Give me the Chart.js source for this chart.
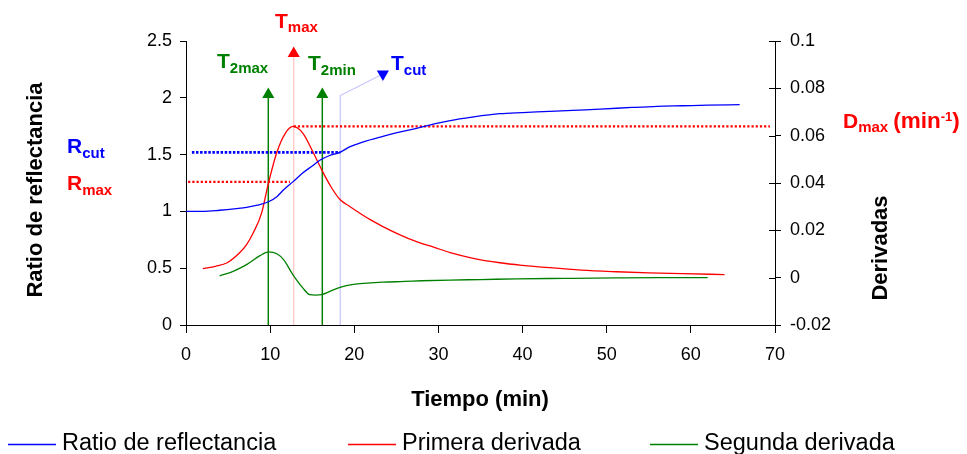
<!DOCTYPE html>
<html><head><meta charset="utf-8">
<script src="https://cdn.jsdelivr.net/npm/chart.js@4.4.0/dist/chart.umd.min.js"></script>
<style>html,body{margin:0;padding:0;background:#fff;}#wrap{width:967px;height:454px;position:relative;}</style>
</head><body><div id="wrap"><canvas id="c" width="967" height="454"></canvas></div>
<script>
// ---------- data ----------
const seriesNames = ['Ratio de reflectancia', 'Primera derivada', 'Segunda derivada'];

const timeRatio = [0, 2, 4, 6, 7.2, 8.5, 9.8, 10.8, 11.6, 12.7, 13.9, 15, 15.9, 17, 18.3, 19.5, 21, 23.4, 25.5, 27.4, 29.5, 31.4, 34, 37.3, 40, 43.2, 46, 49.2, 53, 56, 59, 62, 65.8];
const ratio     = [1.0, 1.0, 1.01, 1.025, 1.036, 1.055, 1.085, 1.13, 1.19, 1.26, 1.34, 1.40, 1.45, 1.49, 1.52, 1.57, 1.61, 1.66, 1.70, 1.73, 1.77, 1.80, 1.83, 1.86, 1.87, 1.88, 1.89, 1.90, 1.915, 1.925, 1.93, 1.935, 1.94];

const timeD1 = [2.0, 3.5, 4.9, 6.4, 7.2, 8.0, 9.0, 9.7, 10.8, 11.8, 12.7, 13.9, 15.1, 16.3, 17.3, 18.3, 19.5, 21.9, 23.4, 25.5, 27.4, 29.5, 31.4, 34, 37.3, 40, 43.2, 47, 51.2, 55, 59, 64];
const firstDeriv = [0.0038, 0.0048, 0.0063, 0.0106, 0.014, 0.019, 0.0275, 0.0385, 0.053, 0.061, 0.0639, 0.061, 0.053, 0.0444, 0.038, 0.033, 0.030, 0.0245, 0.0216, 0.018, 0.0152, 0.0128, 0.0106, 0.0083, 0.0063, 0.0052, 0.0042, 0.0032, 0.0025, 0.002, 0.0017, 0.0013];

const timeD2 = [4.0, 5.6, 7.2, 8.8, 9.8, 10.8, 11.6, 12.7, 13.9, 14.7, 15.4, 16.1, 17.1, 18.3, 19.9, 21.5, 23.4, 26, 28, 31.4, 35, 39.3, 45, 51.2, 56, 62];
const secondDeriv = [0.0008, 0.0027, 0.0055, 0.0093, 0.0109, 0.0101, 0.0076, 0.0013, -0.0044, -0.0072, -0.0074, -0.0072, -0.0058, -0.0041, -0.0028, -0.0023, -0.0019, -0.0016, -0.0013, -0.001, -0.0008, -0.0005, -0.0003, -0.0001, 0, 0];

// characteristic times (min) and arrow-head heights (left axis units)
const markerNames = ['T2max', 'Tmax', 'T2min', 'Tcut'];
const markerTimes = [9.78, 12.8, 16.2, 18.33];
const markerHeads = [2.03, 2.39, 2.03, 2.02];
const tcutHead = { x: 23.4, y: 2.21 };

// reference levels
const rCut = 1.52, rCutRange = [0.7, 18.33];
const rMax = 1.26, rMaxRange = [0.25, 12.35];
const dMax = 0.0639, dMaxRange = [12.8, 69.4];

const xTicks = [0, 10, 20, 30, 40, 50, 60, 70];
const leftTicks = [0, 0.5, 1, 1.5, 2, 2.5];
const leftTickLabels = ['0', '0.5', '1', '1.5', '2', '2.5'];
const rightTicks = [-0.02, 0, 0.02, 0.04, 0.06, 0.08, 0.1];
const rightTickLabels = ['-0.02', '0', '0.02', '0.04', '0.06', '0.08', '0.1'];

// ---------- style ----------
const FF = "'Liberation Sans', Arial, Helvetica, sans-serif";
const BLUE = '#0000ff', RED = '#ff0000', GREEN = '#008000';
const seriesColors = [BLUE, RED, GREEN];

const pts = (xs, ys) => xs.map((x, i) => ({ x: x, y: ys[i] }));

const datasets = [
  { label: seriesNames[0], data: pts(timeRatio, ratio), yAxisID: 'y', borderColor: BLUE, borderWidth: 1.3, pointRadius: 0, cubicInterpolationMode: 'monotone', fill: false },
  { label: seriesNames[1], data: pts(timeD1, firstDeriv), yAxisID: 'y1', borderColor: RED, borderWidth: 1.3, pointRadius: 0, cubicInterpolationMode: 'monotone', fill: false },
  { label: seriesNames[2], data: pts(timeD2, secondDeriv), yAxisID: 'y1', borderColor: GREEN, borderWidth: 1.3, pointRadius: 0, cubicInterpolationMode: 'monotone', fill: false },
  { label: 'Rcut', data: [{ x: rCutRange[0], y: rCut }, { x: rCutRange[1], y: rCut }], yAxisID: 'y', borderColor: BLUE, borderWidth: 2.6, borderDash: [2.5, 1.6], pointRadius: 0 },
  { label: 'Rmax', data: [{ x: rMaxRange[0], y: rMax }, { x: rMaxRange[1], y: rMax }], yAxisID: 'y', borderColor: RED, borderWidth: 2.2, borderDash: [2.2, 2], pointRadius: 0 },
  { label: 'Dmax', data: [{ x: dMaxRange[0], y: dMax }, { x: dMaxRange[1], y: dMax }], yAxisID: 'y1', borderColor: RED, borderWidth: 2.2, borderDash: [2.2, 2], pointRadius: 0 },
  { label: markerNames[0], data: [{ x: markerTimes[0], y: 0 }, { x: markerTimes[0], y: markerHeads[0] }], yAxisID: 'y', borderColor: GREEN, borderWidth: 1.5, pointRadius: [0, 7], pointStyle: 'triangle', pointBackgroundColor: GREEN, pointBorderColor: GREEN, pointBorderWidth: 0 },
  { label: markerNames[1], data: [{ x: markerTimes[1], y: 0 }, { x: markerTimes[1], y: markerHeads[1] }], yAxisID: 'y', borderColor: '#ffc4c4', borderWidth: 1.2, pointRadius: [0, 7], pointStyle: 'triangle', pointBackgroundColor: RED, pointBorderColor: RED, pointBorderWidth: 0 },
  { label: markerNames[2], data: [{ x: markerTimes[2], y: 0 }, { x: markerTimes[2], y: markerHeads[2] }], yAxisID: 'y', borderColor: GREEN, borderWidth: 1.5, pointRadius: [0, 7], pointStyle: 'triangle', pointBackgroundColor: GREEN, pointBorderColor: GREEN, pointBorderWidth: 0 },
  { label: markerNames[3], data: [{ x: markerTimes[3], y: 0 }, { x: markerTimes[3], y: markerHeads[3] }, tcutHead], yAxisID: 'y', borderColor: '#c4c4ff', borderWidth: 1.2, pointRadius: [0, 0, 7], pointStyle: 'triangle', pointRotation: 180, pointBackgroundColor: BLUE, pointBorderColor: BLUE, pointBorderWidth: 0 }
];

function subLabel(ctx, x, y, color, main, sub, mainSize, subSize, dy) {
  ctx.fillStyle = color; ctx.textAlign = 'left'; ctx.textBaseline = 'alphabetic';
  ctx.font = 'bold ' + mainSize + 'px ' + FF;
  ctx.fillText(main, x, y);
  const w = ctx.measureText(main).width;
  ctx.font = 'bold ' + subSize + 'px ' + FF;
  ctx.fillText(sub, x + w, y + dy);
  return x + w + ctx.measureText(sub).width;
}

const overlay = {
  id: 'overlay',
  afterDraw(chart) {
    const ctx = chart.ctx, a = chart.chartArea, sy1 = chart.scales.y1;
    ctx.save();
    // inner part of right-axis tick marks
    ctx.strokeStyle = '#000'; ctx.lineWidth = 1;
    rightTicks.forEach(v => {
      const py = Math.round(sy1.getPixelForValue(v)) + 0.5;
      ctx.beginPath(); ctx.moveTo(a.right - 6, py); ctx.lineTo(a.right, py); ctx.stroke();
    });

    // axis titles
    ctx.fillStyle = '#000';
    ctx.font = 'bold 22px ' + FF;
    ctx.textAlign = 'center'; ctx.textBaseline = 'alphabetic';
    ctx.fillText('Tiempo (min)', 480, 406);
    ctx.save(); ctx.translate(42, 190); ctx.rotate(-Math.PI / 2);
    ctx.fillText('Ratio de reflectancia', 0, 0); ctx.restore();
    ctx.save(); ctx.translate(887, 248); ctx.rotate(-Math.PI / 2);
    ctx.fillText('Derivadas', 0, 0); ctx.restore();

    // marker labels
    subLabel(ctx, 275, 28, RED, 'T', 'max', 21, 15, 4);
    subLabel(ctx, 217, 68, GREEN, 'T', '2max', 21, 15, 5);
    subLabel(ctx, 308, 70, GREEN, 'T', '2min', 21, 15, 5);
    subLabel(ctx, 391, 70, BLUE, 'T', 'cut', 21, 15, 5);
    subLabel(ctx, 67, 153, BLUE, 'R', 'cut', 21, 15, 5);
    subLabel(ctx, 67, 190, RED, 'R', 'max', 21, 15, 5);
    let xe = subLabel(ctx, 843, 128, RED, 'D', 'max', 21, 15, 4);
    ctx.font = 'bold 22.5px ' + FF;
    ctx.fillText('(min', xe + 5, 128);
    xe = xe + 5 + ctx.measureText('(min').width;
    ctx.font = 'bold 13px ' + FF;
    ctx.fillText('-1', xe, 121);
    xe += ctx.measureText('-1').width;
    ctx.font = 'bold 22.5px ' + FF;
    ctx.fillText(')', xe, 128);

    // legend
    const legX = [8, 348, 650];
    ctx.font = '23.5px ' + FF; ctx.textAlign = 'left';
    seriesNames.forEach((n, i) => {
      ctx.strokeStyle = seriesColors[i]; ctx.lineWidth = 1.3;
      ctx.beginPath(); ctx.moveTo(legX[i], 444.5); ctx.lineTo(legX[i] + 48, 444.5); ctx.stroke();
      ctx.fillStyle = '#000';
      ctx.fillText(n, legX[i] + 54, 450);
    });
    ctx.restore();
  }
};

const axisCommon = {
  grid: { drawOnChartArea: false, drawTicks: true, tickLength: 6, color: '#000', lineWidth: 1 },
  border: { display: true, color: '#000', width: 1 },
  ticks: { color: '#000', font: { size: 18, family: FF }, autoSkip: false, maxRotation: 0 }
};

new Chart(document.getElementById('c'), {
  type: 'line',
  data: { datasets: datasets },
  options: {
    responsive: false, animation: false, devicePixelRatio: 1,
    layout: { padding: { top: 41, left: 0, right: 0, bottom: 0 } },
    plugins: { legend: { display: false }, tooltip: { enabled: false } },
    elements: { line: { tension: 0 } },
    scales: {
      x: {
        type: 'linear', min: 0, max: 70,
        grid: Object.assign({}, axisCommon.grid, { tickLength: 8 }),
        border: axisCommon.border,
        ticks: Object.assign({}, axisCommon.ticks, { padding: 11, callback: v => String(v) }),
        afterBuildTicks: s => { s.ticks = xTicks.map(v => ({ value: v })); },
        afterFit: s => { s.height = 129; }
      },
      y: {
        type: 'linear', position: 'left', min: 0, max: 2.5,
        grid: axisCommon.grid, border: axisCommon.border,
        ticks: Object.assign({}, axisCommon.ticks, { padding: 8, callback: v => leftTickLabels[leftTicks.indexOf(v)] }),
        afterBuildTicks: s => { s.ticks = leftTicks.map(v => ({ value: v })); },
        afterFit: s => { s.width = 186; }
      },
      y1: {
        type: 'linear', position: 'right', min: -0.02, max: 0.1,
        grid: axisCommon.grid, border: axisCommon.border,
        ticks: Object.assign({}, axisCommon.ticks, { padding: 9, callback: v => rightTickLabels[rightTicks.indexOf(v)] }),
        afterBuildTicks: s => { s.ticks = rightTicks.map(v => ({ value: v })); },
        afterFit: s => { s.width = 192; }
      }
    }
  },
  plugins: [overlay]
});
</script>
</body></html>
